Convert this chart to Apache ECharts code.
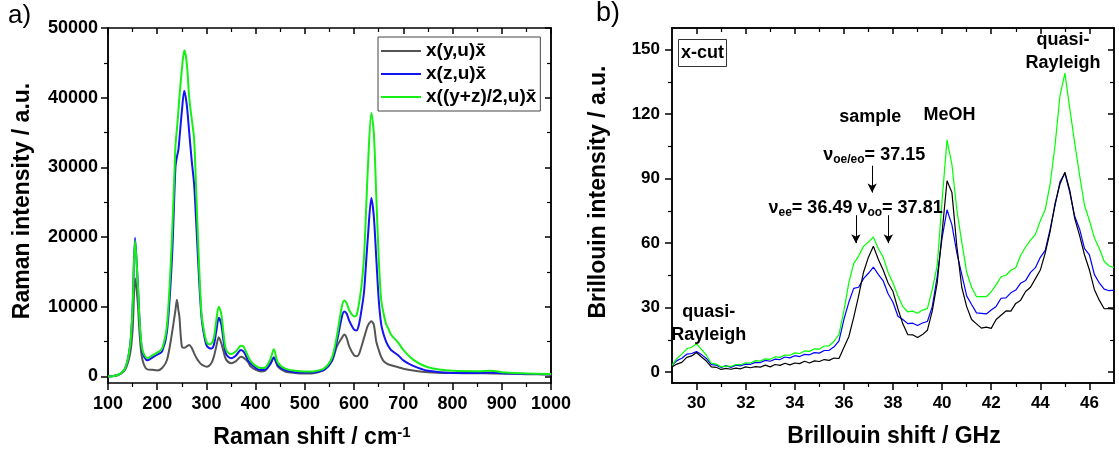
<!DOCTYPE html>
<html><head><meta charset="utf-8">
<script src="https://cdn.jsdelivr.net/npm/echarts@6/dist/echarts.min.js"></script>
<style>html,body{margin:0;padding:0;background:#fff}#c{width:1119px;height:456px}</style>
</head><body><div id="c"></div>
<script>
// ---------- Panel a) Raman ----------
const ramanShift = [100,120,135,145,150,155,160,165,170,180,190,200,210,220,230,237,240,243,245,250,255,260,265,270,275,280,285,290,295,300,305,310,315,320,325,330,335,340,350,360,370,375,380,385,390,400,410,420,430,437,445,460,480,500,520,540,555,565,575,580,585,590,600,605,610,615,620,625,628,635,640,645,650,655,660,665,670,675,690,700,720,750,800,850,880,900,950,1000];
const ramanY = [0,200,1000,3300,6700,14100,11000,5300,2400,1000,950,850,1200,2400,6200,9500,11000,9500,8600,4300,4100,4300,4500,4100,3300,2600,2100,1700,1500,1400,1500,1900,2800,4300,5600,4800,3500,2400,1900,2200,2800,2700,2400,2000,1400,950,700,850,1900,2700,1400,700,480,400,480,950,2200,4300,5500,6000,5500,4300,3000,2900,3200,4300,5500,6700,7300,7900,7400,5000,3800,2800,2200,1900,1700,1600,1300,1100,850,600,480,450,430,400,320,250];
const ramanZ = [0,200,1200,4500,10000,19900,14000,7000,3500,2300,2700,3100,3600,6500,17000,30000,31500,32500,34000,38000,41000,39000,35000,31000,27500,21000,14000,8500,6000,4500,4100,4000,4500,6500,8400,7500,5000,3200,2600,3000,3800,3600,3000,2200,1800,1200,900,1000,1800,2700,1600,900,600,550,600,1000,2300,5000,8500,9300,9000,8000,6700,6600,7500,9500,12000,17000,20000,25600,23000,17000,11000,7500,6000,5000,4300,3800,3000,2300,1500,800,500,500,550,450,350,300];
const ramanYZ = [0,200,1200,4500,10000,19500,14000,7000,3800,2600,3000,3400,4000,7500,20000,33000,35500,38000,40000,44000,46800,45000,40000,37000,34000,25000,16000,9000,6500,5000,4600,4700,5500,8000,10000,9000,6000,3800,3200,3600,4400,4300,3600,2800,2200,1500,1200,1300,2500,3900,2000,1100,800,700,750,1200,2700,5800,10000,10900,10500,9500,8600,8800,10500,13000,17000,25000,30000,37800,35000,26000,17000,11000,9000,7500,6800,6000,4800,3800,2400,1300,800,750,800,600,400,350];
const ramanNames = ['x(y,u)x\u0304', 'x(z,u)x\u0304', 'x((y+z)/2,u)x\u0304'];
const ramanYTicks = [0,10000,20000,30000,40000,50000];
const ramanYMinor = [5000,15000,25000,35000,45000];

// ---------- Panel b) Brillouin ----------
const brillouinShift = [29,29.2,29.4,29.6,29.8,30,30.2,30.4,30.6,30.8,31,31.2,31.4,31.6,31.8,32,32.2,32.4,32.6,32.8,33,33.2,33.4,33.6,33.8,34,34.2,34.4,34.6,34.8,35,35.2,35.4,35.6,35.8,36,36.2,36.4,36.6,36.8,37,37.2,37.4,37.6,37.8,38,38.2,38.4,38.6,38.8,39,39.2,39.4,39.6,39.8,40,40.2,40.4,40.6,40.8,41,41.2,41.4,41.6,41.8,42,42.2,42.4,42.6,42.8,43,43.2,43.4,43.6,43.8,44,44.2,44.4,44.6,44.8,45,45.2,45.4,45.6,45.8,46,46.2,46.4,46.6,46.8,47];
const brillouinY = [2.5,3.8,4.6,6.9,7.6,9.2,7.1,5.2,2.5,2.3,
  1.3,1.8,1.4,1.9,1.6,2.5,2.1,2.6,2.4,3.3,
  2.5,3.6,3.2,4.2,3.4,4.3,4.0,5.1,4.3,5.3,
  5.0,5.9,5.5,6.6,6.4,11.5,16.5,25.5,35.5,46.5,
  53.5,58.6,52.5,47.5,41.5,37.5,29.5,22.5,17.5,17.4,
  16.1,17.5,19.5,28.5,41.5,65,89,83.5,58.5,39.5,
  30.5,24.5,22.5,20.5,21,20.4,24.5,26.5,28.5,28.4,
  32,33.5,37.5,39.5,43.5,47.5,55.5,65.5,78.5,87.5,
  93,84.5,71.5,63.5,54.5,47.5,38.5,33.5,29.5,29.6,
  29.3];
const brillouinZ = [3.2,5.4,6.5,8.4,8.7,9.6,8.2,6.4,3.5,3.3,
  2.2,3.1,2.2,3.3,3.0,3.8,3.7,4.6,4.5,5.5,
  5.1,6.1,5.9,7.1,6.7,7.7,7.3,8.3,8.1,9.1,
  8.9,10.1,10.2,11.8,14.6,24.5,32.5,39,39.5,43.5,
  46,48.9,45.5,42.5,36.5,32.5,26,24.5,22.6,22.8,
  21.7,22.9,23.6,30.5,44.5,62.5,75.5,68.5,55.5,45.5,
  35.5,31.5,27.6,27.4,27.1,28.9,30.6,34.4,34.6,36.9,
  38.2,41.4,42.6,46.4,48.6,53.4,56.6,66.5,77.5,88.5,
  92.5,83.5,72.5,66.5,57.5,54.5,45.5,41.5,38.6,37.9,
  38.2];
const brillouinYZ = [3.2,6.4,8.4,10.9,11.6,13.2,10.6,7.9,4.2,3.8,
  2.5,2.9,2.7,3.6,3.5,4.4,4.3,5.4,5.2,6.2,
  6.0,7.2,6.9,8.0,7.9,9.0,8.7,9.9,9.7,10.9,
  10.7,12.2,12.3,14.4,17.6,28.5,41.5,50.5,54,58.5,
  60.5,62.9,57.5,53.5,46.5,41.5,35.5,30.5,28.1,28.4,
  27.4,28.9,29.6,38.5,49.5,80,108,96.5,75.5,60.5,
  46.5,39.5,35.1,35.1,35.1,37.4,40.6,44.4,45.1,47.4,
  48.6,54.4,58.2,61.4,64.1,70.4,75.6,87.5,105.5,128.5,
  139,122.5,106.5,91.5,77.5,70.5,62.5,57.5,51.6,49.4,
  48.7];
const brillouinXTicks = [30,32,34,36,38,40,42,44,46];
const brillouinXMinor = [31,33,35,37,39,41,43,45];
const brillouinYTicks = [0,30,60,90,120,150];
const brillouinYMinor = [15,45,75,105,135];

// arrow anchors (data coordinates)
const arrowsAt = [
  {x: 36.49, from: 73, to: 60},
  {x: 37.15, from: 96, to: 83.5},
  {x: 37.81, from: 73, to: 60}
];

const FONT = '"Liberation Sans", Arial, Helvetica, sans-serif';
const AX = '#000';
const zip = (xs, ys) => xs.map((x, i) => [x, ys[i]]);
const plain = (v) => String(v);

function ax(o) {
  const base = {
    type: 'value',
    axisLine: {show: true, onZero: false, lineStyle: {color: AX, width: 1.5}},
    splitLine: {show: false},
    axisLabel: {show: false},
    axisTick: {show: true, lineStyle: {color: AX, width: 1.5}}
  };
  return Object.assign(base, o);
}
const labelStyle = (margin) => ({show: true, color: '#000', fontFamily: FONT, fontWeight: 'bold', fontSize: 18, margin: margin, formatter: plain});

const chart = echarts.init(document.getElementById('c'));

const option = {
  animation: false,
  backgroundColor: '#fff',
  grid: [
    {left: 108, right: 568, top: 28, bottom: 73},
    {left: 672, right: 5, top: 28, bottom: 73}
  ],
  xAxis: [
    ax({gridIndex: 0, position: 'bottom', min: 100, max: 1000, interval: 100,
        axisTick: {show: true, length: 7, lineStyle: {color: AX, width: 1.5}},
        minorTick: {show: true, splitNumber: 2, length: 4, lineStyle: {color: AX, width: 1.2}},
        axisLabel: labelStyle(12)}),
    ax({gridIndex: 0, position: 'top', min: 100, max: 1000, interval: 100,
        axisTick: {show: true, inside: true, length: 6, lineStyle: {color: AX, width: 1.5}},
        minorTick: {show: true, splitNumber: 2, length: 4, lineStyle: {color: AX, width: 1.2}}}),
    ax({gridIndex: 1, position: 'bottom', min: 29, max: 47,
        axisTick: {show: true, length: 7, customValues: brillouinXTicks, lineStyle: {color: AX, width: 1.5}},
        axisLabel: Object.assign(labelStyle(12), {customValues: brillouinXTicks, fontSize: 17})}),
    ax({gridIndex: 1, position: 'bottom', min: 29, max: 47,
        axisTick: {show: true, length: 4, customValues: brillouinXMinor, lineStyle: {color: AX, width: 1.2}}}),
    ax({gridIndex: 1, position: 'top', min: 29, max: 47,
        axisTick: {show: true, inside: true, length: 6, customValues: brillouinXTicks, lineStyle: {color: AX, width: 1.5}}}),
    ax({gridIndex: 1, position: 'top', min: 29, max: 47,
        axisTick: {show: true, inside: true, length: 4, customValues: brillouinXMinor, lineStyle: {color: AX, width: 1.2}}})
  ],
  yAxis: [
    ax({gridIndex: 0, position: 'left', min: -950, max: 50000,
        axisTick: {show: true, length: 7, customValues: ramanYTicks, lineStyle: {color: AX, width: 1.5}},
        axisLabel: Object.assign(labelStyle(10), {customValues: ramanYTicks})}),
    ax({gridIndex: 0, position: 'left', min: -950, max: 50000,
        axisTick: {show: true, length: 4, customValues: ramanYMinor, lineStyle: {color: AX, width: 1.2}}}),
    ax({gridIndex: 0, position: 'right', min: -950, max: 50000,
        axisTick: {show: true, inside: true, length: 6, customValues: ramanYTicks, lineStyle: {color: AX, width: 1.5}}}),
    ax({gridIndex: 0, position: 'right', min: -950, max: 50000,
        axisTick: {show: true, inside: true, length: 4, customValues: ramanYMinor, lineStyle: {color: AX, width: 1.2}}}),
    ax({gridIndex: 1, position: 'left', min: -5, max: 160,
        axisTick: {show: true, length: 7, customValues: brillouinYTicks, lineStyle: {color: AX, width: 1.5}},
        axisLabel: Object.assign(labelStyle(12), {customValues: brillouinYTicks, fontSize: 17})}),
    ax({gridIndex: 1, position: 'left', min: -5, max: 160,
        axisTick: {show: true, length: 4, customValues: brillouinYMinor, lineStyle: {color: AX, width: 1.2}}}),
    ax({gridIndex: 1, position: 'right', min: -5, max: 160,
        axisTick: {show: true, inside: true, length: 6, customValues: brillouinYTicks, lineStyle: {color: AX, width: 1.5}}}),
    ax({gridIndex: 1, position: 'right', min: -5, max: 160,
        axisTick: {show: true, inside: true, length: 4, customValues: brillouinYMinor, lineStyle: {color: AX, width: 1.2}}})
  ],
  legend: {
    data: ramanNames, left: 378, top: 37, orient: 'vertical',
    icon: 'rect', itemWidth: 40, itemHeight: 2, itemGap: 3,
    padding: [4, 4, 4, 3], borderColor: '#444', borderWidth: 1, backgroundColor: '#fff',
    textStyle: {fontFamily: FONT, fontWeight: 'bold', fontSize: 19, color: '#000', lineHeight: 20}
  },
  series: [
    {name: ramanNames[0], type: 'line', xAxisIndex: 0, yAxisIndex: 0, data: zip(ramanShift, ramanY),
     showSymbol: false, symbol: 'none', smooth: 0.3, lineStyle: {color: '#555555', width: 2}, itemStyle: {color: '#555555'}},
    {name: ramanNames[1], type: 'line', xAxisIndex: 0, yAxisIndex: 0, data: zip(ramanShift, ramanZ),
     showSymbol: false, symbol: 'none', smooth: 0.3, lineStyle: {color: '#1414f0', width: 2}, itemStyle: {color: '#1414f0'}},
    {name: ramanNames[2], type: 'line', xAxisIndex: 0, yAxisIndex: 0, data: zip(ramanShift, ramanYZ),
     showSymbol: false, symbol: 'none', smooth: 0.3, lineStyle: {color: '#16f016', width: 2}, itemStyle: {color: '#16f016'}},
    {name: 'b-z', type: 'line', xAxisIndex: 2, yAxisIndex: 4, data: zip(brillouinShift, brillouinZ),
     showSymbol: false, symbol: 'none', lineStyle: {color: '#0000ff', width: 1.2}, itemStyle: {color: '#0000ff'},
     markLine: {silent: true, symbol: ['none', 'arrow'], symbolSize: [7, 9],
       lineStyle: {color: '#000', width: 1, type: 'solid'}, label: {show: false},
       data: arrowsAt.map(a => [{coord: [a.x, a.from]}, {coord: [a.x, a.to]}])}},
    {name: 'b-y', type: 'line', xAxisIndex: 2, yAxisIndex: 4, data: zip(brillouinShift, brillouinY),
     showSymbol: false, symbol: 'none', lineStyle: {color: '#000', width: 1.2}, itemStyle: {color: '#000'}},
    {name: 'b-yz', type: 'line', xAxisIndex: 2, yAxisIndex: 4, data: zip(brillouinShift, brillouinYZ),
     showSymbol: false, symbol: 'none', lineStyle: {color: '#00ff00', width: 1.2}, itemStyle: {color: '#00ff00'}}
  ]
};
chart.setOption(option);

// ---- text annotations ----
const bold = (s) => ({fontFamily: FONT, fontWeight: 'bold', fontSize: s, fill: '#000'});
function px(x, y) { return chart.convertToPixel({xAxisIndex: 2, yAxisIndex: 4}, [x, y]); }
const nuRich = {n: Object.assign(bold(18), {lineHeight: 22}), s: Object.assign(bold(12), {lineHeight: 12, verticalAlign: 'bottom', padding: [10, 0, 0, 0]})};

const annotations = [
  {at: [30.5, 22.6], text: 'quasi-\nRayleigh', align: 'center'},
  {at: [44.92, 149], text: 'quasi-\nRayleigh', align: 'center'},
  {at: [37.07, 118.7], text: 'sample', align: 'center'},
  {at: [40.3, 119.6], text: 'MeOH', align: 'center'},
  {at: [35.16, 101], text: '{n|\u03bd}{s|oe/eo}{n|= 37.15}', align: 'left', rich: true},
  {at: [32.93, 76.5], text: '{n|\u03bd}{s|ee}{n|= 36.49 \u03bd}{s|oo}{n|= 37.81}', align: 'left', rich: true}
];
const graphics = [];
annotations.forEach(a => {
  const p = px(a.at[0], a.at[1]);
  const st = {text: a.text, fill: '#000', font: 'bold 18px ' + FONT, align: a.align, verticalAlign: 'middle', lineHeight: 23};
  if (a.rich) st.rich = nuRich;
  graphics.push({type: 'text', x: p[0], y: p[1], style: st, z: 100});
});
// panel labels
graphics.push({type: 'text', x: 8, y: 16, style: {text: 'a)', fill: '#000', font: '26px ' + FONT, align: 'left', verticalAlign: 'middle'}});
graphics.push({type: 'text', x: 596, y: 14, style: {text: 'b)', fill: '#000', font: '27px ' + FONT, align: 'left', verticalAlign: 'middle'}});
// axis titles
const titleRich = {a: Object.assign(bold(23), {lineHeight: 26}), s: Object.assign(bold(15), {lineHeight: 15, verticalAlign: 'top'})};
graphics.push({type: 'text', x: 312, y: 438, style: {text: '{a|Raman shift / cm}{s|-1}', rich: titleRich, align: 'center', verticalAlign: 'middle'}});
graphics.push({type: 'text', x: 23, y: 201, rotation: Math.PI / 2, style: {text: 'Raman intensity / a.u.', font: 'bold 23px ' + FONT, fill: '#000', align: 'center', verticalAlign: 'middle'}});
graphics.push({type: 'text', x: 894, y: 437, style: {text: 'Brillouin shift / GHz', font: 'bold 23px ' + FONT, fill: '#000', align: 'center', verticalAlign: 'middle'}});
graphics.push({type: 'text', x: 599, y: 192, rotation: Math.PI / 2, style: {text: 'Brillouin intensity / a.u.', font: 'bold 23px ' + FONT, fill: '#000', align: 'center', verticalAlign: 'middle'}});
// x-cut box
graphics.push({type: 'rect', shape: {x: 678.5, y: 39.5, width: 48, height: 27}, style: {fill: '#fff', stroke: '#333', lineWidth: 1}, z: 90});
graphics.push({type: 'text', x: 702.5, y: 53, style: {text: 'x-cut', font: 'bold 18px ' + FONT, fill: '#000', align: 'center', verticalAlign: 'middle'}, z: 100});

chart.setOption({graphic: graphics});
</script></body></html>
